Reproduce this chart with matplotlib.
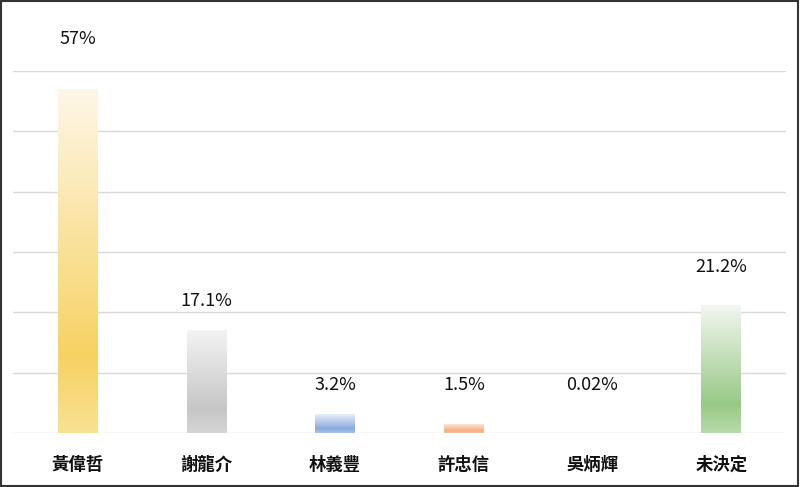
import numpy as np
import matplotlib.pyplot as plt
from matplotlib.colors import LinearSegmentedColormap
from matplotlib.patches import Rectangle

plt.rcParams['font.family'] = ['Noto Sans CJK TC', 'DejaVu Sans']

# datos
candidatos = ['黃偉哲', '謝龍介', '林義豐', '許忠信', '吳炳輝', '未決定']
apoyo = [57, 17.1, 3.2, 1.5, 0.02, 21.2]
etiquetas = ['57%', '17.1%', '3.2%', '1.5%', '0.02%', '21.2%']
# colores del degradado: (abajo, medio, arriba)
colores = [
    ('#f9e193', '#f7d262', '#fef7e8'),
    ('#d6d6d6', '#c6c6c6', '#f4f4f4'),
    ('#a9c2e8', '#8aabdd', '#eef3fa'),
    ('#f6c4a0', '#f4b07e', '#fcece0'),
    ('#d6d6d6', '#c6c6c6', '#f4f4f4'),
    ('#b8dbaa', '#98c986', '#f3f7f1'),
]
# altura de las etiquetas de valor (en %)
pos_etiqueta = [65.3, 21.9, 8.0, 8.0, 8.0, 27.6]

fig = plt.figure(figsize=(8, 4.87), dpi=100)
ax = fig.add_axes([13.4 / 800, 1 - 433.3 / 487, (785.6 - 13.4) / 800, 362.6 / 487])

x = np.arange(len(candidatos))
ancho = 0.31
barras = ax.bar(x, apoyo, width=ancho, color='none', edgecolor='none', zorder=3)

grad = np.linspace(0, 1, 256).reshape(-1, 1)
for b, (c0, c1, c2) in zip(barras, colores):
    cmap = LinearSegmentedColormap.from_list('g', [(0, c0), (0.22, c1), (1, c2)])
    x0, y0 = b.get_x(), b.get_y()
    w, h = b.get_width(), b.get_height()
    if h <= 0:
        continue
    im = ax.imshow(grad, cmap=cmap, origin='lower', aspect='auto',
                   extent=[x0, x0 + w, y0, y0 + h], zorder=3)
    im.set_clip_path(b)

for xi, lab, yl in zip(x, etiquetas, pos_etiqueta):
    ax.text(xi, yl, lab, ha='center', va='center', fontsize=13, fontweight='medium',
            color='#111111', clip_on=False)

ax.set_xlim(-0.5, len(candidatos) - 0.5)
ax.set_ylim(0, 60)
ax.set_yticks(np.arange(0, 61, 10))
ax.yaxis.grid(True, color='#d9d9d9', linewidth=1)
ax.set_axisbelow(True)
ax.tick_params(left=False, labelleft=False, bottom=False, length=0)
ax.set_xticks(x)
ax.set_xticklabels(candidatos, fontsize=12.5, fontweight='bold', color='#111111')
ax.tick_params(axis='x', pad=16)
for s in ax.spines.values():
    s.set_visible(False)

# marco exterior
fig.patches.append(Rectangle((0.001, 0.002), 0.997, 0.995, transform=fig.transFigure,
                             fill=False, edgecolor='#333333', linewidth=1.5))

fig.savefig('out.png', dpi=100)
